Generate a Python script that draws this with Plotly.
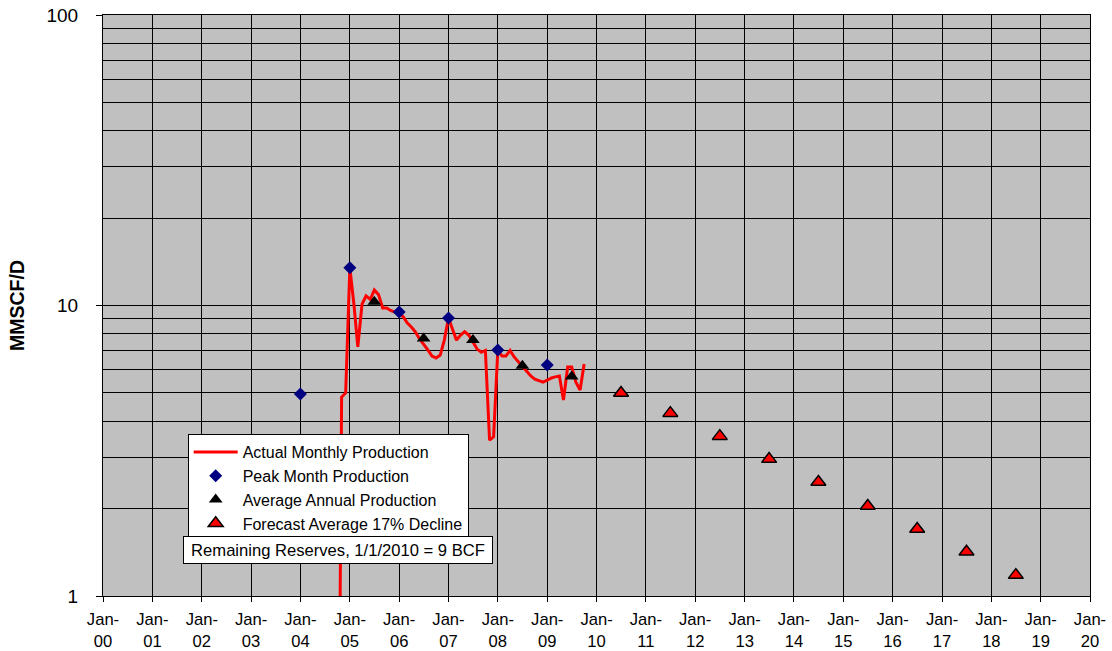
import plotly.graph_objects as go

# Monthly gas production, MMSCF/D
monthly_dates = [
    "2004-10-01", "2004-11-01", "2004-12-01",
    "2005-01-01", "2005-02-01", "2005-03-01", "2005-04-01", "2005-05-01", "2005-06-01",
    "2005-07-01", "2005-08-01", "2005-09-01", "2005-10-01", "2005-11-01", "2005-12-01",
    "2006-01-01", "2006-02-01", "2006-03-01", "2006-04-01", "2006-05-01", "2006-06-01",
    "2006-07-01", "2006-08-01", "2006-09-01", "2006-10-01", "2006-11-01", "2006-12-01",
    "2007-01-01", "2007-02-01", "2007-03-01", "2007-04-01", "2007-05-01", "2007-06-01",
    "2007-07-01", "2007-08-01", "2007-09-01", "2007-10-01", "2007-11-01", "2007-12-01",
    "2008-01-01", "2008-02-01", "2008-03-01", "2008-04-01", "2008-05-01", "2008-06-01",
    "2008-07-01", "2008-08-01", "2008-09-01", "2008-10-01", "2008-11-01", "2008-12-01",
    "2009-01-01", "2009-02-01", "2009-03-01", "2009-04-01", "2009-05-01", "2009-06-01",
    "2009-07-01", "2009-08-01", "2009-09-01", "2009-10-01",
]
monthly_values = [
    0.05, 4.84, 5.0,
    13.5, 10.0, 7.2, 10.1, 10.8, 10.5,
    11.3, 10.9, 9.8, 9.8, 9.6, 9.5,
    9.4, 9.13, 8.71, 8.43, 8.11, 7.67,
    7.31, 7.03, 6.7, 6.6, 6.75, 7.6,
    9.05, 8.24, 7.6, 7.91, 8.13, 7.9,
    7.49, 7.08, 6.9, 7.0, 3.44, 3.53,
    7.0, 6.7, 6.7, 7.0, 6.65, 6.39,
    6.14, 5.9, 5.72, 5.58, 5.5, 5.45,
    5.53, 5.63, 5.68, 5.72, 4.73, 6.14,
    6.14, 5.45, 5.12, 6.29,
]

# Peak month of each year
peak_dates = ["2004-01-01", "2005-01-01", "2006-01-01", "2007-01-01", "2008-01-01", "2009-01-01"]
peak_values = [4.96, 13.5, 9.5, 9.05, 7.03, 6.24]

# Average annual production, plotted mid-year
avg_dates = ["2005-07-01", "2006-07-01", "2007-07-01", "2008-07-01", "2009-07-01"]
avg_values = [10.3, 7.7, 7.6, 6.2, 5.7]

# Forecast at 17% average decline
forecast_dates = ["2010-07-01", "2011-07-01", "2012-07-01", "2013-07-01", "2014-07-01",
                  "2015-07-01", "2016-07-01", "2017-07-01", "2018-07-01"]
forecast_values = [5.0, 4.26, 3.55, 2.96, 2.47, 2.04, 1.70, 1.42, 1.18]

# Axis ticks
year_ticks = [f"{y}-01-01" for y in range(2000, 2021)]
year_labels = [f"Jan-<br>{y % 100:02d}" for y in range(2000, 2021)]
y_ticks = [1, 10, 100]
y_labels = ["1", "10", "100"]
y_minor = [2, 3, 4, 5, 6, 7, 8, 9, 20, 30, 40, 50, 60, 70, 80, 90]

FONT = "Liberation Sans, Arial, sans-serif"

fig = go.Figure()
fig.add_trace(go.Scatter(
    x=monthly_dates, y=monthly_values, mode="lines",
    name="Actual Monthly Production",
    line=dict(color="#FF0000", width=3),
))
fig.add_trace(go.Scatter(
    x=peak_dates, y=peak_values, mode="markers",
    name="Peak Month Production",
    marker=dict(symbol="diamond", size=10, color="#000080"),
))
fig.add_trace(go.Scatter(
    x=avg_dates, y=avg_values, mode="markers",
    name="Average Annual Production",
    marker=dict(symbol="triangle-up", size=12, color="#000000"),
))
fig.add_trace(go.Scatter(
    x=forecast_dates, y=forecast_values, mode="markers",
    name="Forecast Average 17% Decline",
    marker=dict(symbol="triangle-up", size=13, color="#FF0000",
                line=dict(color="#000000", width=1.5)),
))

fig.add_annotation(
    xref="paper", yref="paper", x=0.238, y=0.0797,
    text="Remaining Reserves, 1/1/2010 = 9 BCF",
    showarrow=False, font=dict(family=FONT, size=16.6, color="#000000"),
    bgcolor="#FFFFFF", bordercolor="#000000", borderwidth=1,
    width=306, height=24, xanchor="center", yanchor="middle",
)

fig.update_layout(
    width=1112, height=651,
    margin=dict(l=103, r=22, t=15, b=55),
    paper_bgcolor="#FFFFFF", plot_bgcolor="#C0C0C0",
    font=dict(family=FONT, size=16.6, color="#000000"),
    showlegend=True,
    legend=dict(
        x=0.0858, y=0.2788, xanchor="left", yanchor="top",
        bgcolor="#FFFFFF", bordercolor="#000000", borderwidth=1,
        font=dict(family=FONT, size=16, color="#000000"),
        itemwidth=44, tracegroupgap=0, entrywidth=240,
    ),
    xaxis=dict(
        type="date", range=["2000-01-01", "2020-01-01"],
        tickmode="array", tickvals=year_ticks, ticktext=year_labels,
        ticks="outside", ticklen=5, tickcolor="#000000",
        tickfont=dict(family=FONT, size=16.6, color="#000000"),
        ticklabelstandoff=3, automargin=False,
        showgrid=True, gridcolor="#000000", gridwidth=1,
        showline=True, linecolor="#000000", linewidth=1, mirror=True,
        zeroline=False,
    ),
    yaxis=dict(
        type="log", range=[0, 2],
        tickmode="array", tickvals=y_ticks, ticktext=y_labels,
        ticks="outside", ticklen=6, tickcolor="#000000",
        tickfont=dict(family=FONT, size=19, color="#000000"),
        ticklabelstandoff=14, automargin=False,
        showgrid=True, gridcolor="#000000", gridwidth=1,
        minor=dict(tickvals=y_minor, showgrid=True, gridcolor="#000000",
                   gridwidth=1, ticks=""),
        showline=True, linecolor="#000000", linewidth=1, mirror=True,
        zeroline=False,
        title=dict(text="<b>MMSCF/D</b>", standoff=16,
                   font=dict(family=FONT, size=19.5, color="#000000")),
    ),
)

fig.write_html("out.html")
